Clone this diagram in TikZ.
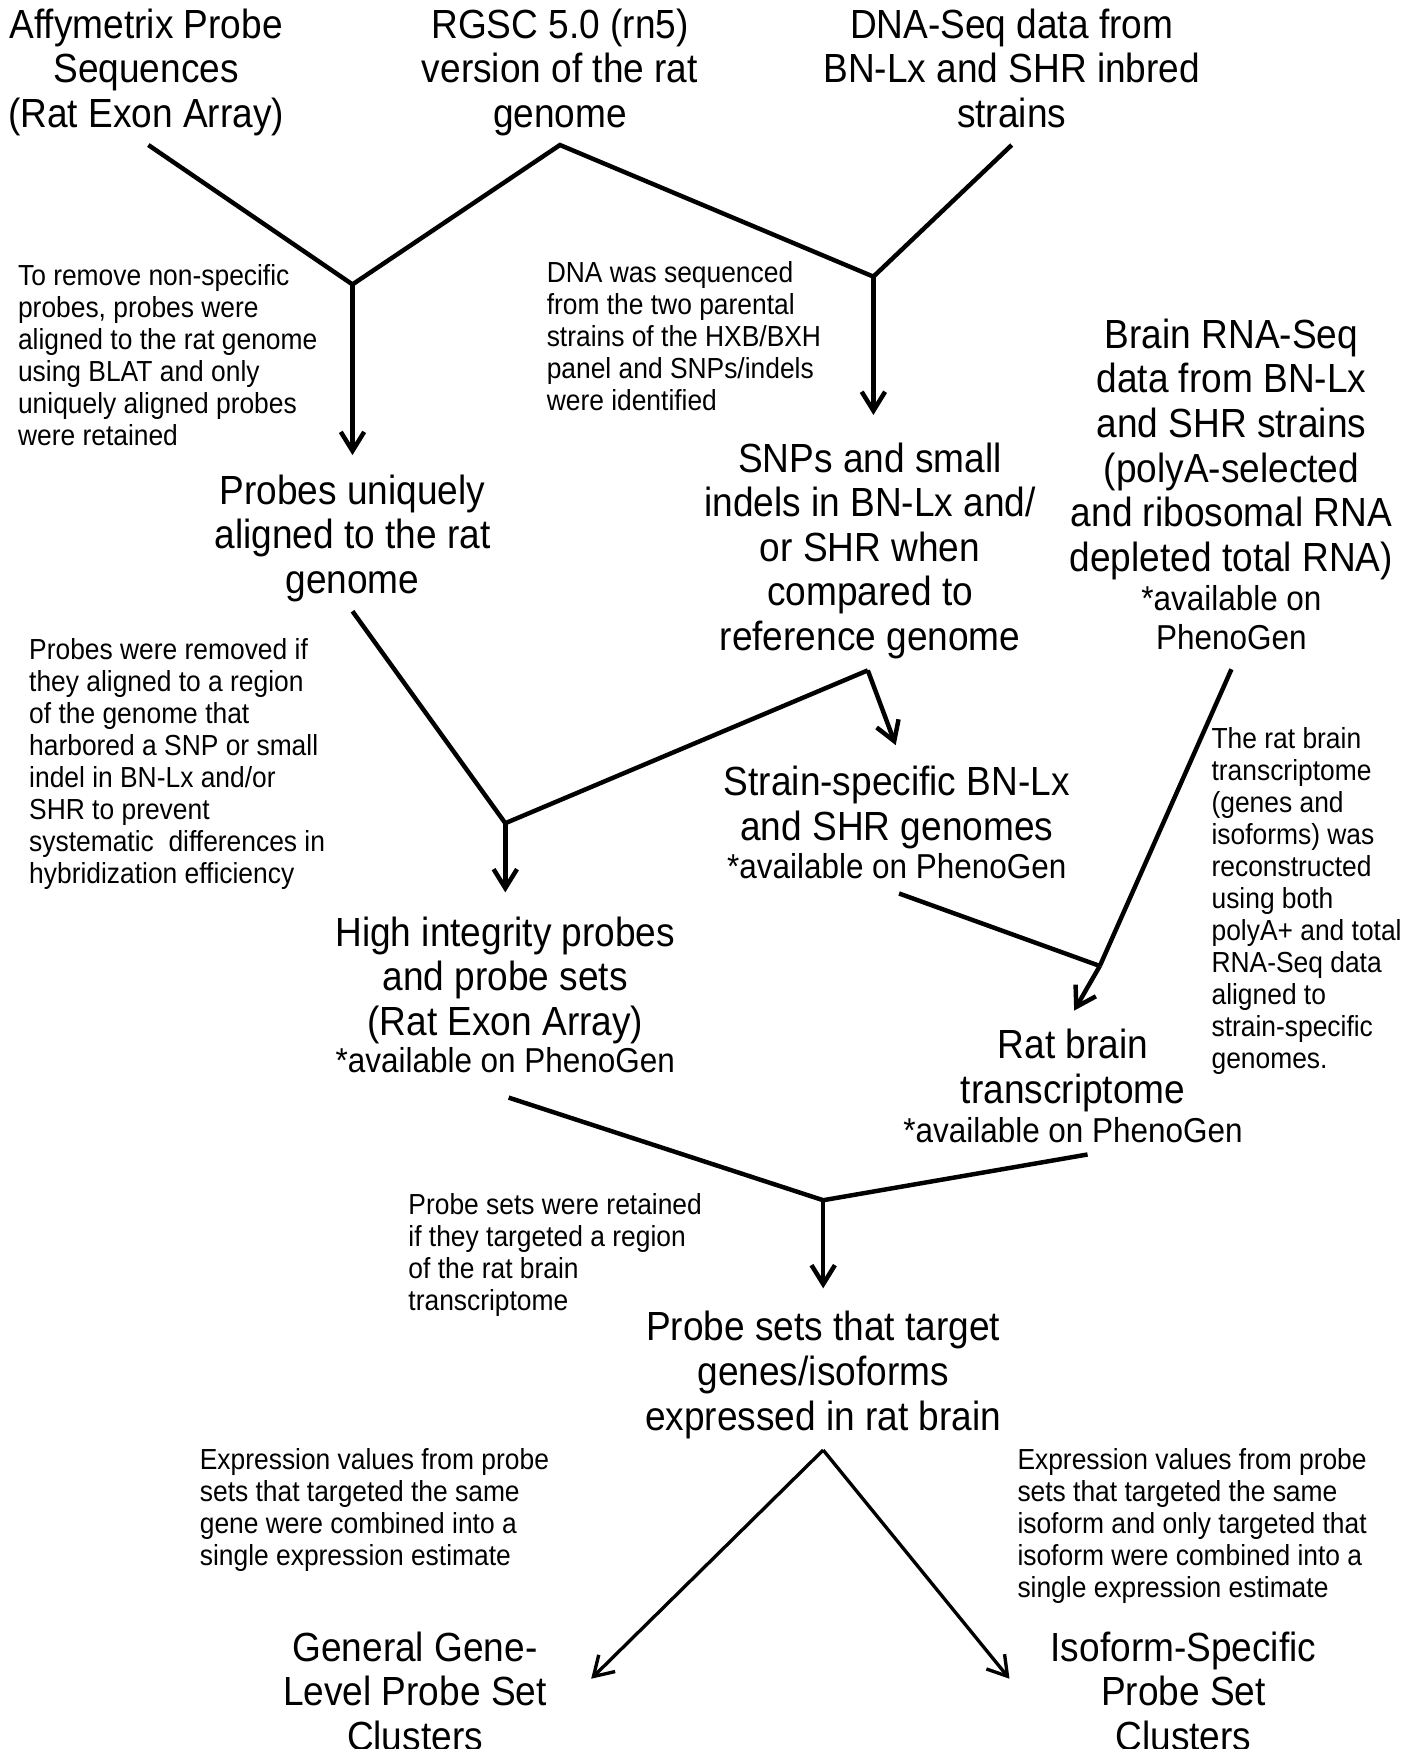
\documentclass[tikz,border=0pt]{standalone}
\usepackage{fontspec}
\setmainfont{Liberation Sans}[FakeStretch=0.91]
\usetikzlibrary{arrows.meta}
\tikzset{
  bigtxt/.style={font=\fontsize{36.5}{40}\selectfont, align=center, anchor=north, inner sep=0pt,
    execute at begin node={\rule{0pt}{27.4pt}}},
  medtxt/.style={font=\fontsize{31}{35}\selectfont, align=center, anchor=north, inner sep=0pt,
    execute at begin node={\rule{0pt}{23.3pt}}},
  smalltxt/.style={font=\fontsize{26}{28.7}\selectfont, align=left, anchor=north west, inner sep=0pt,
    execute at begin node={\rule{0pt}{19.5pt}}},
  conn/.style={line width=4pt, line cap=butt, line join=miter},
  arr/.style={conn, -{Straight Barb[length=17pt,width=21pt]}},
  thinarr/.style={line width=3pt, -{Straight Barb[length=17pt,width=21pt]}},
}
\begin{document}
\begin{tikzpicture}[x=1pt,y=-1pt]
\useasboundingbox (0,0) rectangle (1271,1568);
\fill[white] (0,0) rectangle (1271,1568);

% top sources
\node[bigtxt] (affy) at (131,7.5) {Affymetrix Probe\\Sequences\\(Rat Exon Array)};
\node[bigtxt] (rgsc) at (502,7.5) {RGSC 5.0 (rn5)\\version of the rat\\genome};
\node[bigtxt] (dnaseq) at (907,7.5) {DNA-Seq data from\\BN-Lx and SHR inbred\\strains};

% junction coordinates
\coordinate (affyend) at (133,130);
\coordinate (rgscend) at (502,130);
\coordinate (dnaend) at (907,130);
\coordinate (j1) at (316,255);
\coordinate (j2) at (783,248);
\coordinate (t1) at (316,408);
\coordinate (t2) at (783,372);

\draw[conn] (affyend) -- (j1) -- (rgscend) -- (j2) -- (dnaend);
\draw[arr] (j1) -- (t1);
\draw[arr] (j2) -- (t2);

\node[smalltxt] (note1) at (16,237) {To remove non-specific\\probes, probes were\\aligned to the rat genome\\using BLAT and only\\uniquely aligned probes\\were retained};
\node[smalltxt] (note2) at (490,234) {DNA was sequenced\\from the two parental\\strains of the HXB/BXH\\panel and SNPs/indels\\were identified};

\node[bigtxt] (rnaseq) at (1104,285.5) {Brain RNA-Seq\\data from BN-Lx\\and SHR strains\\(polyA-selected\\and ribosomal RNA\\depleted total RNA)};
\node[medtxt] (rnaavail) at (1104,525) {*available on\\PhenoGen};

\node[bigtxt] (uniq) at (316,425.5) {Probes uniquely\\aligned to the rat\\genome};
\node[bigtxt] (snps) at (780,396.5) {SNPs and small\\indels in BN-Lx and/\\or SHR when\\compared to\\reference genome};

\node[smalltxt] (note3) at (26,572) {Probes were removed if\\they aligned to a region\\of the genome that\\harbored a SNP or small\\indel in BN-Lx and/or\\SHR to prevent\\systematic~ differences in\\hybridization efficiency};

\coordinate (uniqend) at (316,548);
\coordinate (j3) at (453,738);
\coordinate (snpend) at (778,601);
\coordinate (t3) at (803,668);
\coordinate (t4) at (453,800);
\draw[conn] (uniqend) -- (j3) -- (snpend);
\draw[arr] (snpend) -- (t3);
\draw[arr] (j3) -- (t4);

\node[bigtxt] (strain) at (804,686.5) {Strain-specific BN-Lx\\and SHR genomes};
\node[medtxt] (strainavail) at (804,764) {*available on PhenoGen};

\node[smalltxt] (note4) at (1086,652) {The rat brain\\transcriptome\\(genes and\\isoforms) was\\reconstructed\\using both\\polyA+ and total\\RNA-Seq data\\aligned to\\strain-specific\\genomes.};

\coordinate (rnaend) at (1104,600);
\coordinate (strainend) at (806,801);
\coordinate (j4) at (986,866);
\coordinate (t5) at (963,906);
\draw[conn] (rnaend) -- (j4);
\draw[conn] (strainend) -- (j4);
\draw[arr] (j4) -- (t5);

\node[bigtxt] (high) at (453,821.5) {High integrity probes\\and probe sets\\(Rat Exon Array)};
\node[medtxt] (highavail) at (453,938) {*available on PhenoGen};

\node[bigtxt] (ratbrain) at (962,922.5) {Rat brain\\transcriptome};
\node[medtxt] (ratavail) at (962,1001) {*available on PhenoGen};

\coordinate (highend) at (456,984);
\coordinate (ratend) at (975,1035);
\coordinate (j5) at (738,1076);
\coordinate (t6) at (738,1155);
\draw[conn] (highend) -- (j5) -- (ratend);
\draw[arr] (j5) -- (t6);

\node[smalltxt] (note5) at (366,1070) {Probe sets were retained\\if they targeted a region\\of the rat brain\\transcriptome};

\node[bigtxt] (target) at (738,1175.5) {Probe sets that target\\genes/isoforms\\expressed in rat brain};

\coordinate (j6) at (738,1300);
\coordinate (t7) at (530,1505);
\coordinate (t8) at (905,1505);
\draw[thinarr] (j6) -- (t7);
\draw[thinarr] (j6) -- (t8);

\node[smalltxt] (note6) at (179,1298) {Expression values from probe\\sets that targeted the same\\gene were combined into a\\single expression estimate};
\node[smalltxt] (note7) at (912,1298) {Expression values from probe\\sets that targeted the same\\isoform and only targeted that\\isoform were combined into a\\single expression estimate};

\node[bigtxt] (general) at (372,1462.5) {General Gene-\\Level Probe Set\\Clusters};
\node[bigtxt] (isoform) at (1061,1462.5) {Isoform-Specific\\Probe Set\\Clusters};
\end{tikzpicture}
\end{document}
